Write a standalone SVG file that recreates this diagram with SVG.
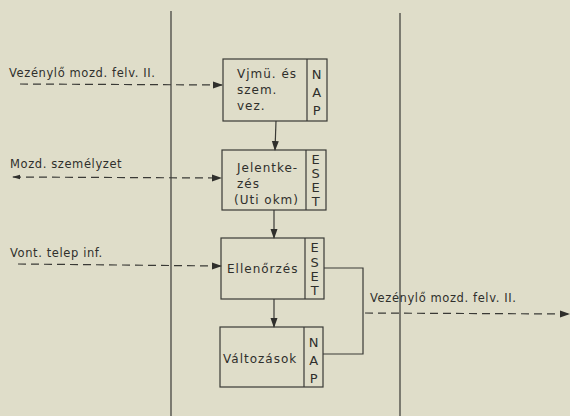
<svg xmlns="http://www.w3.org/2000/svg" width="570" height="416" viewBox="0 0 570 416">
<defs>
<style>
.bg{fill:#dfddc9}
.box{fill:none;stroke:#3a3a36;stroke-width:1.2}
.ln{fill:none;stroke:#3a3a36;stroke-width:1.2}
.dash{fill:none;stroke:#3a3a36;stroke-width:1.2;stroke-dasharray:8,5}
text{font-family:"DejaVu Sans","Liberation Sans",sans-serif;font-size:11.5px;fill:#2f2f2c;letter-spacing:0.6px}
.in{font-size:12px;letter-spacing:1px}
.side{text-anchor:middle;font-size:13px}
</style>
<marker id="ah" markerWidth="10" markerHeight="8" refX="9" refY="4" orient="auto" markerUnits="userSpaceOnUse">
<path d="M0,0.5 L10,4 L0,7.5 Z" fill="#2f2f2c"/>
</marker>
<marker id="ahs" markerWidth="8" markerHeight="6" refX="7" refY="3" orient="auto-start-reverse" markerUnits="userSpaceOnUse">
<path d="M0,0.8 L8,3 L0,5.2 Z" fill="#2f2f2c"/>
</marker>
</defs>
<rect class="bg" x="0" y="0" width="570" height="416"/>
<g id="lanes">
<line class="ln" x1="171" y1="11" x2="171" y2="416"/>
<line class="ln" x1="400" y1="13" x2="400" y2="416"/>
</g>
<g id="connectors">
<line class="dash" x1="20" y1="84" x2="222" y2="85" marker-end="url(#ah)"/>
<line class="dash" x1="13" y1="177" x2="221" y2="178" marker-start="url(#ahs)" marker-end="url(#ah)"/>
<line class="dash" x1="18" y1="264" x2="221" y2="266" marker-end="url(#ah)"/>
<line class="ln" x1="276" y1="121" x2="275" y2="150" marker-end="url(#ah)"/>
<line class="ln" x1="274" y1="210" x2="274" y2="238" marker-end="url(#ah)"/>
<line class="ln" x1="274" y1="299" x2="274" y2="327" marker-end="url(#ah)"/>
<polyline class="ln" points="324,268 363,268 363,354 323,354"/>
<line class="dash" x1="365" y1="313" x2="569" y2="314" marker-end="url(#ah)"/>
</g>
<g id="labels">
<text x="9" y="77">Vezénylő  mozd. felv. II.</text>
<text x="10" y="168">Mozd. személyzet</text>
<text x="10" y="257">Vont. telep  inf.</text>
<text x="370" y="302">Vezénylő  mozd. felv. II.</text>
</g>
<g id="node1">
<rect class="box" x="223" y="59" width="104" height="62"/>
<line class="ln" x1="307" y1="59" x2="307" y2="121"/>
<text class="in" x="237" y="78">Vjmü. és</text>
<text class="in" x="237" y="94">szem.</text>
<text class="in" x="237" y="110">vez.</text>
<text class="side" x="317" y="79">N</text>
<text class="side" x="317" y="97">A</text>
<text class="side" x="317" y="115">P</text>
</g>
<g id="node2">
<rect class="box" x="222" y="150" width="104" height="60"/>
<line class="ln" x1="306" y1="150" x2="306" y2="210"/>
<text class="in" x="237" y="172">Jelentke-</text>
<text class="in" x="237" y="188">zés</text>
<text class="in" x="234" y="204">(Uti  okm)</text>
<text class="side" x="316" y="164">E</text>
<text class="side" x="316" y="178">S</text>
<text class="side" x="316" y="192">E</text>
<text class="side" x="316" y="206">T</text>
</g>
<g id="node3">
<rect class="box" x="221" y="238" width="103" height="61"/>
<line class="ln" x1="305" y1="238" x2="305" y2="299"/>
<text class="in" x="227" y="273">Ellenőrzés</text>
<text class="side" x="315" y="252">E</text>
<text class="side" x="315" y="267">S</text>
<text class="side" x="315" y="281">E</text>
<text class="side" x="315" y="295">T</text>
</g>
<g id="node4">
<rect class="box" x="220" y="327" width="103" height="60"/>
<line class="ln" x1="304" y1="327" x2="304" y2="387"/>
<text class="in" x="223" y="363">Változások</text>
<text class="side" x="314" y="347">N</text>
<text class="side" x="314" y="365">A</text>
<text class="side" x="314" y="383">P</text>
</g>
</svg>
